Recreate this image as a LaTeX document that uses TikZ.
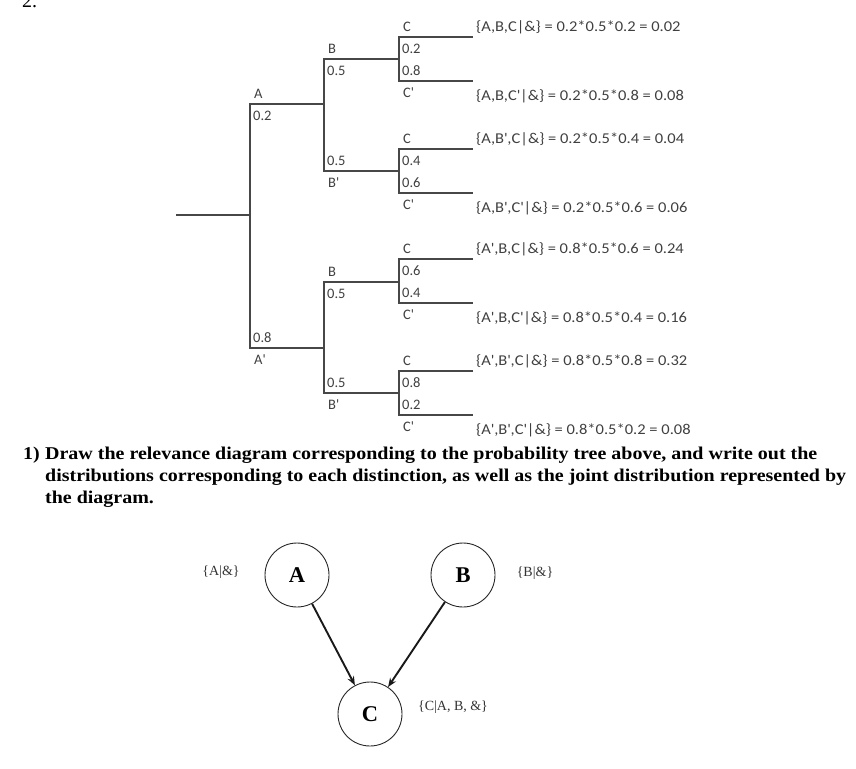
\documentclass[tikz,border=0pt]{standalone}
\usepackage{fontspec}
\setmainfont{Liberation Serif}
\newfontfamily\treefont{Carlito}
\newfontfamily\jointfont[FakeStretch=1.1]{Carlito}
\newfontfamily\qfont[FakeStretch=1.11]{Liberation Serif}
\usetikzlibrary{arrows.meta}
\newcommand\prm{\textquotesingle}

\begin{document}
\begin{tikzpicture}[x=1pt,y=-1pt,
    branch/.style={draw=black!72, line width=1.4pt},
    lbl/.style={anchor=west, inner sep=0pt, text=black!75,
      font=\treefont\fontsize{14.5}{14.5}\selectfont},
    joint/.style={lbl, font=\jointfont\fontsize{15}{15}\selectfont},
    dnode/.style={circle, draw=black!85, line width=0.9pt, minimum size=64pt,
      inner sep=0pt, font=\bfseries\fontsize{22.5}{22.5}\selectfont},
    dlabel/.style={inner sep=0pt, text=black!80, font=\fontsize{14}{14}\selectfont},
    infl/.style={-{Stealth[length=9pt,width=7pt]}, line width=1.9pt, black!90}]
  \useasboundingbox (0,0) rectangle (856,768);
  \node[anchor=base west, inner sep=0pt, font=\fontsize{20}{20}\selectfont] (qnum) at (22,8) {2.};

  % probability tree
  \coordinate (root) at (176,215);
  \coordinate (nA) at (250,215);
  \draw[branch] (root) -- (nA);
  \draw[branch] (324,104) -- (250,104) -- (250,348) -- (324,348);
  \node[lbl] (tA) at (254,94) {A};
  \node[lbl] (pA) at (253,116) {0.2};
  \node[lbl] (pAp) at (253,338) {0.8};
  \node[lbl] (tAp) at (254,360) {A\prm};
  \foreach \yb/\ya in {59/104, 282/348} {
    \draw[branch] (324,\ya) -- (324,\yb);
  }
  \foreach \yb/\ybp/\pb in {59/171/A, 282/393/Ap} {
    \draw[branch] (399,\yb) -- (324,\yb) -- (324,\ybp) -- (399,\ybp);
    \node[lbl] (tB\pb) at (328,\yb-10) {B};
    \node[lbl] (pB\pb) at (327,\yb+12) {0.5};
    \node[lbl] (pBp\pb) at (327,\ybp-10) {0.5};
    \node[lbl] (tBp\pb) at (328,\ybp+12) {B\prm};
  }
  % chance on C and the joint probabilities
  \foreach \ym/\pc/\pcp/\pre/\pa/\jc/\jcp/\n in {
      59/0.2/0.8/{A,B}/0.2/0.02/0.08/1,
      171/0.4/0.6/{A,B\prm}/0.2/0.04/0.06/2,
      281/0.6/0.4/{A\prm,B}/0.8/0.24/0.16/3,
      393/0.8/0.2/{A\prm,B\prm}/0.8/0.32/0.08/4} {
    \draw[branch] (473,\ym-22) -- (399,\ym-22) -- (399,\ym+22) -- (473,\ym+22);
    \node[lbl] (tC\n) at (403,\ym-32) {C};
    \node[lbl] (pC\n) at (402,\ym-10) {\pc};
    \node[lbl] (pCp\n) at (402,\ym+12) {\pcp};
    \node[lbl] (tCp\n) at (403,\ym+34) {C\prm};
    \node[joint] (jC\n) at (476,\ym-32) {\{\pre,C|\&\} = \pa*0.5*\pc{} = \jc};
    \node[joint] (jCp\n) at (476,\ym+37) {\{\pre,C\prm|\&\} = \pa*0.5*\pcp{} = \jcp};
  }

  % question
  \node[anchor=base west, inner sep=0pt, font=\qfont\bfseries\fontsize{18}{22}\selectfont]
    (qone) at (23,459) {1)};
  \node[anchor=base west, inner sep=0pt, align=left,
    font=\qfont\bfseries\fontsize{18}{22}\selectfont] (qtext) at (45,503)
    {Draw the relevance diagram corresponding to the probability tree above, and write out the\\
     distributions corresponding to each distinction, as well as the joint distribution represented by\\
     the diagram.};

  % relevance diagram
  \node[dnode] (A) at (297,575) {A};
  \node[dnode] (B) at (463,575) {B};
  \node[dnode] (C) at (370,714) {C};
  \node[dlabel] (lA) at (221,572) {\{A|\&\}};
  \node[dlabel] (lB) at (535,573) {\{B|\&\}};
  \node[dlabel] (lC) at (453,707) {\{C|A, B, \&\}};
  \draw[infl] (A) -- (C);
  \draw[infl] (B) -- (C);
\end{tikzpicture}
\end{document}
